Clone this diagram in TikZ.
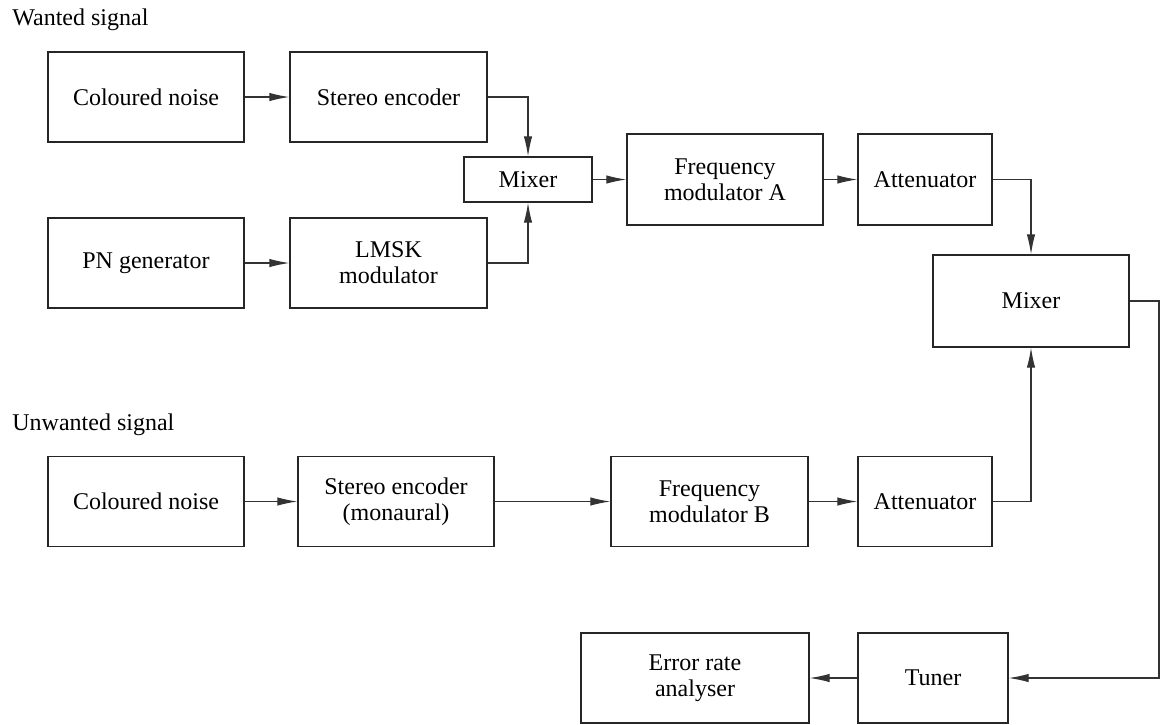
\documentclass[tikz,border=0pt]{standalone}
\usepackage{fontspec}
\setmainfont{Liberation Serif}
\usetikzlibrary{arrows.meta}
\tikzset{
  blk/.style={draw=black!85, line width=0.65pt, inner sep=0pt, align=center,
    font=\fontsize{12}{13}\selectfont, minimum width=98pt, minimum height=45pt},
  arr/.style={draw=black!80, line width=0.55pt, -{Latex[length=10pt,width=4.2pt]}},
  lbl/.style={anchor=base west, inner sep=0pt, font=\fontsize{12}{13}\selectfont}
}
\begin{document}
\begin{tikzpicture}[x=0.5pt, y=-0.5pt]
\useasboundingbox (0,0) rectangle (1160,724);
% labels
\node[lbl] (wanted) at (12,25) {Wanted signal};
\node[lbl] (unwanted) at (12,430) {Unwanted signal};
% top row
\node[blk] (cn1) at (146,97) {Coloured noise};
\node[blk, minimum width=98.5pt] (se1) at (388.5,97) {Stereo encoder};
\node[blk, minimum width=64pt, minimum height=22.5pt] (mix1) at (528,179.5) {Mixer};
\node[blk, minimum height=45.5pt] (fma) at (725,179.5) {Frequency\\modulator A};
\node[blk, minimum width=67pt, minimum height=45.5pt] (att1) at (925,179.5) {Attenuator};
\node[blk] (pn) at (146,263) {PN generator};
\node[blk, minimum width=98.5pt] (lmsk) at (388.5,263) {LMSK\\modulator};
\node[blk, minimum height=46pt] (mix2) at (1031,301) {Mixer};
% bottom row
\node[blk] (cn2) at (146,501.5) {Coloured noise};
\node[blk] (se2) at (396,501.5) {Stereo encoder\\(monaural)};
\node[blk, minimum width=98.5pt] (fmb) at (709.5,501.5) {Frequency\\modulator B};
\node[blk, minimum width=67pt] (att2) at (925,501.5) {Attenuator};
\node[blk, minimum width=75pt] (tuner) at (933,678) {Tuner};
\node[blk, minimum width=114pt] (era) at (695,678) {Error rate\\analyser};
\coordinate (rt) at (1159,0);
% connectors
\draw[arr] (cn1) -- (se1);
\draw[arr] (se1.east) -| (mix1.north);
\draw[arr] (pn) -- (pn -| lmsk.west);
\draw[arr] (lmsk.east) -| (mix1.south);
\draw[arr] (mix1.east) -- (mix1.east -| fma.west);
\draw[arr] (fma) -- (att1);
\draw[arr] (att1.east) -| (mix2.north);
\draw[arr] (cn2) -- (se2);
\draw[arr] (se2) -- (fmb);
\draw[arr] (fmb) -- (att2);
\draw[arr] (att2.east) -| (mix2.south);
\draw[arr] (mix2.east) -- (mix2.east -| rt) |- (tuner.east);
\draw[arr] (tuner) -- (era);
\end{tikzpicture}
\end{document}
